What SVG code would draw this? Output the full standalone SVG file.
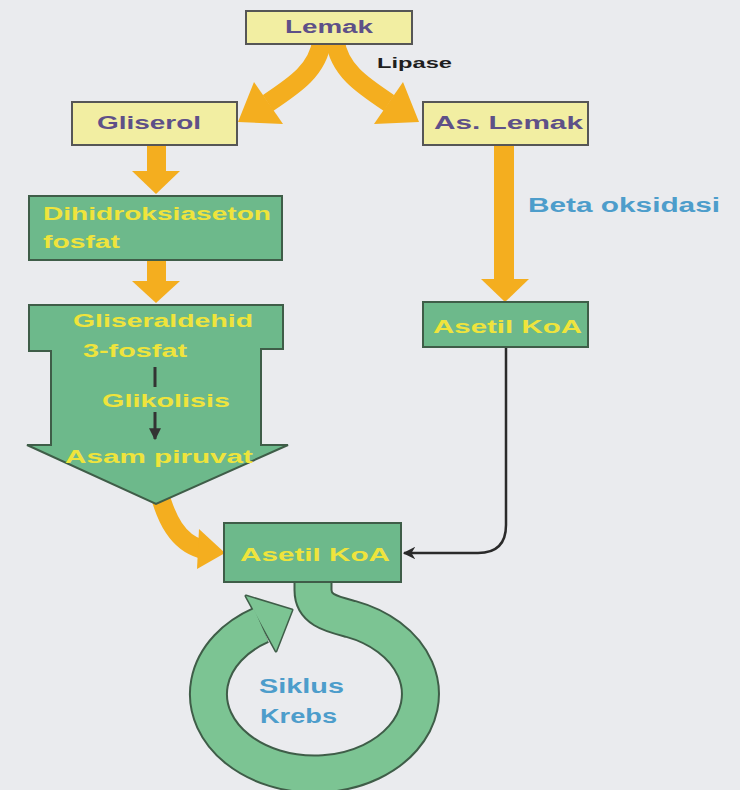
<svg xmlns="http://www.w3.org/2000/svg" width="740" height="790" viewBox="0 0 740 790">
<style>
.yb{fill:#f2eea2;stroke:#565656;stroke-width:2}
.gb{fill:#6db98b;stroke:#3f5d48;stroke-width:2}
.yt{font-family:"Liberation Sans",Arial,sans-serif;font-weight:bold;fill:#5e5088;font-size:18px}
.gt{font-family:"Liberation Sans",Arial,sans-serif;font-weight:bold;fill:#efe43c;font-size:18px}
.bt{font-family:"Liberation Sans",Arial,sans-serif;fill:#4d9dcb;font-size:20px}
.or{fill:#f4ae1f}
.orl{fill:none;stroke:#f4ae1f;stroke-width:19}
</style>
<defs>
<marker id="ah" viewBox="0 0 10 10" refX="9" refY="5" markerWidth="5" markerHeight="5" orient="auto" markerUnits="strokeWidth">
<path d="M0,0 L10,5 L0,10 L3,5 Z" fill="#2a2a2a"/>
</marker>
<marker id="ahs" viewBox="0 0 10 10" refX="9" refY="5" markerWidth="4" markerHeight="4" orient="auto" markerUnits="strokeWidth">
<path d="M0,0 L10,5 L0,10 Z" fill="#333"/>
</marker>
</defs>
<rect width="740" height="790" fill="#eaebee"/>

<g id="connectors">
<!-- Lemak split -->
<path class="orl" d="M322 40 C318 70 295 85 268 103"/>
<polygon class="or" points="238,122 254,82 283,124"/>
<path class="orl" d="M335 40 C339 70 362 85 389 103"/>
<polygon class="or" points="419,122 403,82 374,124"/>
<!-- Gliserol -> Dihidroksiaseton -->
<rect class="or" x="147" y="146" width="19" height="27"/>
<polygon class="or" points="132,171 180,171 156,194"/>
<!-- Dihidroksiaseton -> Gliseraldehid -->
<rect class="or" x="147" y="261" width="19" height="22"/>
<polygon class="or" points="132,281 180,281 156,303"/>
<!-- As. Lemak -> Asetil KoA -->
<rect class="or" x="494" y="145" width="20" height="135"/>
<polygon class="or" points="481,279 529,279 505,302"/>
<!-- Asam piruvat -> Asetil KoA -->
<path class="orl" d="M158 488 C166 520 178 542 201 549"/>
<polygon class="or" points="225,553 199,529 197,569"/>
<!-- Asetil KoA (right) -> Asetil KoA (bottom) -->
<path d="M506 347 L506 525 Q506 553 478 553 L404 553" fill="none" stroke="#2a2a2a" stroke-width="2.5" marker-end="url(#ah)"/>
</g>

<g id="lemak">
<rect class="yb" x="246" y="11" width="166" height="33"/>
<text class="yt" x="329" y="33" text-anchor="middle" font-size="17" textLength="88" lengthAdjust="spacingAndGlyphs">Lemak</text>
</g>
<g id="lipase">
<text x="377" y="68" font-family="Liberation Sans,Arial,sans-serif" font-weight="bold" font-size="15" fill="#1e1e1e" textLength="75" lengthAdjust="spacingAndGlyphs">Lipase</text>
</g>
<g id="gliserol">
<rect class="yb" x="72" y="102" width="165" height="43"/>
<text class="yt" x="97" y="129" textLength="104" lengthAdjust="spacingAndGlyphs">Gliserol</text>
</g>
<g id="as-lemak">
<rect class="yb" x="423" y="102" width="165" height="43"/>
<text class="yt" x="434" y="129" textLength="149" lengthAdjust="spacingAndGlyphs">As. Lemak</text>
</g>
<g id="beta-oksidasi">
<text class="bt" x="528" y="212" font-weight="bold" textLength="192" lengthAdjust="spacingAndGlyphs">Beta oksidasi</text>
</g>
<g id="dihidroksiaseton">
<rect class="gb" x="29" y="196" width="253" height="64"/>
<text class="gt" x="43" y="220" textLength="228" lengthAdjust="spacingAndGlyphs">Dihidroksiaseton</text>
<text class="gt" x="43" y="248" textLength="77" lengthAdjust="spacingAndGlyphs">fosfat</text>
</g>
<g id="gliseraldehid">
<path class="gb" d="M29 305 L283 305 L283 349 L261 349 L261 445 L288 445 L156 504 L27 445 L51 445 L51 351 L29 351 Z"/>
<text class="gt" x="73" y="327" textLength="180" lengthAdjust="spacingAndGlyphs">Gliseraldehid</text>
<text class="gt" x="83" y="357" textLength="104" lengthAdjust="spacingAndGlyphs">3-fosfat</text>
<line x1="155" y1="367" x2="155" y2="387" stroke="#333" stroke-width="3"/>
<text class="gt" x="102" y="407" textLength="128" lengthAdjust="spacingAndGlyphs">Glikolisis</text>
<line x1="155" y1="412" x2="155" y2="439" stroke="#333" stroke-width="3" marker-end="url(#ahs)"/>
<text class="gt" x="65" y="463" textLength="188" lengthAdjust="spacingAndGlyphs">Asam piruvat</text>
</g>
<g id="asetil-koa-1">
<rect class="gb" x="423" y="302" width="165" height="45"/>
<text class="gt" x="433" y="333" textLength="149" lengthAdjust="spacingAndGlyphs">Asetil KoA</text>
</g>

<g id="siklus-krebs">
<path d="M313 575 L313 590 C313 610 332 614 351 619 A106 80 0 1 1 261 625" fill="none" stroke="#3f5d48" stroke-width="39"/>
<polygon points="292,610 246,596 276,651" fill="#3f5d48" stroke="#3f5d48" stroke-width="3" stroke-linejoin="round"/>
<path d="M313 575 L313 590 C313 610 332 614 351 619 A106 80 0 1 1 261 625" fill="none" stroke="#7cc493" stroke-width="35"/>
<polygon points="292,610 246,596 276,651" fill="#7cc493"/>
<text class="bt" x="259" y="693" font-weight="bold" textLength="85" lengthAdjust="spacingAndGlyphs">Siklus</text>
<text class="bt" x="260" y="723" font-weight="bold" textLength="77" lengthAdjust="spacingAndGlyphs">Krebs</text>
</g>

<g id="asetil-koa-2">
<rect class="gb" x="224" y="523" width="177" height="59"/>
<text class="gt" x="240" y="561" textLength="150" lengthAdjust="spacingAndGlyphs">Asetil KoA</text>
</g>
</svg>
